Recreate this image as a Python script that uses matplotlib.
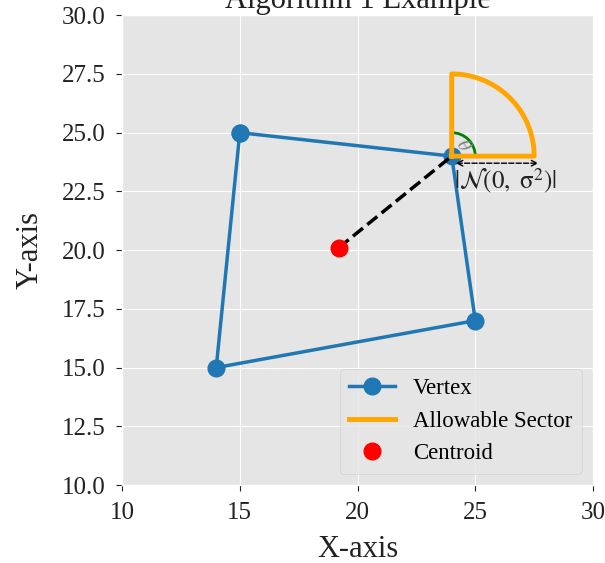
import matplotlib.pyplot as plt
import numpy as np
from matplotlib.patches import Arc

plt.style.use('ggplot')
plt.rcParams['font.family'] = ['Liberation Serif', 'DejaVu Serif']
plt.rcParams['mathtext.fontset'] = 'stix'

vx = [15, 24, 25, 14]
vy = [25, 24, 17, 15]
centroid = (19.2, 20.1)
apex = (24, 24)
radius = 3.5

fig = plt.figure(figsize=(6.05, 5.63), dpi=100)
ax = fig.add_axes([0.2017, 0.1385, 0.7785, 0.8345])

ax.plot(vx + vx[:1], vy + vy[:1], '-o', color='#1f77b4', lw=2.5, ms=12, label='Vertex')

# allowable sector
t = np.linspace(0, np.pi / 2, 100)
sx = np.concatenate([[apex[0]], apex[0] + radius * np.cos(t), [apex[0]]])
sy = np.concatenate([[apex[1]], apex[1] + radius * np.sin(t), [apex[1]]])
ax.plot(sx, sy, color='orange', lw=3.5, label='Allowable Sector')

ax.plot([centroid[0], apex[0]], [centroid[1], apex[1]], 'k--', lw=2.5)
ax.plot(*centroid, 'o', color='red', ms=12, ls='none', label='Centroid')

ax.add_patch(Arc(apex, 2, 2, theta1=0, theta2=90, color='green', lw=2))
ax.text(apex[0] + 0.5, apex[1] + 0.45, r'$\theta$', color='gray', fontsize=14,
        rotation=-55, ha='center', va='center')
ax.annotate('', xy=(apex[0] + radius + 0.3, apex[1] - 0.3), xytext=(apex[0] + 0.05, apex[1] - 0.3),
            arrowprops=dict(arrowstyle='<->', ls='--', color='k', lw=1))
ax.text(apex[0] + 2.3, apex[1] - 0.45, r'$|\mathcal{N}(0,\ \mathrm{\sigma}^2)|$', fontsize=18,
        ha='center', va='top', color='#222222')

ax.set_xlim(10, 30)
ax.set_ylim(10, 30)
ax.set_xticks([10, 15, 20, 25, 30])
ax.set_yticks(np.arange(10, 30.1, 2.5))
ax.tick_params(labelsize=18, colors='#222222', length=4, pad=8)
ax.set_xlabel('X-axis', fontsize=22, color='#222222', labelpad=8)
ax.set_ylabel('Y-axis', fontsize=22, color='#222222', labelpad=12)
ax.set_title('Algorithm 1 Example', fontsize=22, pad=5, color='#222222')
ax.legend(loc='lower right', fontsize=16.5, facecolor='#e5e5e5', framealpha=0.8)

fig.savefig('out.png', dpi=100)
